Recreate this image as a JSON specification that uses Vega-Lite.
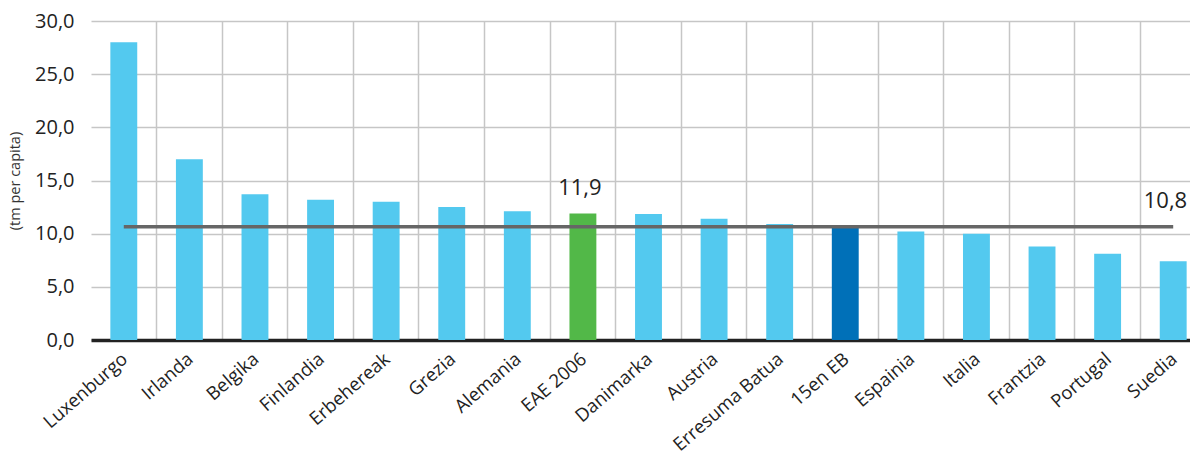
{
  "$schema": "https://vega.github.io/schema/vega-lite/v6.json",
  "width": 1099,
  "height": 319,
  "autosize": "none",
  "padding": {"left": 91, "top": 21, "right": 0, "bottom": 119},
  "background": "white",
  "config": {
    "locale": {"number": {"decimal": ",", "thousands": ".", "grouping": [3], "currency": ["", " €"]}},
    "view": {"stroke": null},
    "font": "Open Sans"
  },
  "datasets": {
    "erreferentzia": [
      {"hasiera": "Luxenburgo", "amaiera": "Suedia", "maila": 10.65, "etiketa": "10,8"}
    ]
  },
  "data": {
    "values": [
      {"herrialdea": "Luxenburgo", "balioa": 28.0, "mota": "herrialdea"},
      {"herrialdea": "Irlanda", "balioa": 17.0, "mota": "herrialdea"},
      {"herrialdea": "Belgika", "balioa": 13.7, "mota": "herrialdea"},
      {"herrialdea": "Finlandia", "balioa": 13.2, "mota": "herrialdea"},
      {"herrialdea": "Erbehereak", "balioa": 13.0, "mota": "herrialdea"},
      {"herrialdea": "Grezia", "balioa": 12.5, "mota": "herrialdea"},
      {"herrialdea": "Alemania", "balioa": 12.1, "mota": "herrialdea"},
      {"herrialdea": "EAE 2006", "balioa": 11.9, "mota": "EAE"},
      {"herrialdea": "Danimarka", "balioa": 11.85, "mota": "herrialdea"},
      {"herrialdea": "Austria", "balioa": 11.4, "mota": "herrialdea"},
      {"herrialdea": "Erresuma Batua", "balioa": 10.9, "mota": "herrialdea"},
      {"herrialdea": "15en EB", "balioa": 10.8, "mota": "EB15"},
      {"herrialdea": "Espainia", "balioa": 10.2, "mota": "herrialdea"},
      {"herrialdea": "Italia", "balioa": 10.0, "mota": "herrialdea"},
      {"herrialdea": "Frantzia", "balioa": 8.8, "mota": "herrialdea"},
      {"herrialdea": "Portugal", "balioa": 8.1, "mota": "herrialdea"},
      {"herrialdea": "Suedia", "balioa": 7.4, "mota": "herrialdea"}
    ]
  },
  "encoding": {
    "x": {
      "field": "herrialdea",
      "type": "nominal",
      "sort": null,
      "scale": {
        "domain": ["Luxenburgo", "Irlanda", "Belgika", "Finlandia", "Erbehereak", "Grezia", "Alemania", "EAE 2006", "Danimarka", "Austria", "Erresuma Batua", "15en EB", "Espainia", "Italia", "Frantzia", "Portugal", "Suedia"],
        "range": [0, 1115],
        "paddingInner": 0,
        "paddingOuter": 0
      },
      "axis": {
        "title": null,
        "grid": true,
        "bandPosition": 0,
        "gridColor": "#c6c6c6",
        "gridWidth": 1.5,
        "gridOpacity": {"condition": {"test": "datum.value === 'Luxenburgo'", "value": 0}, "value": 1},
        "domainColor": "#222222",
        "domainWidth": 3.5,
        "ticks": false,
        "labelAngle": -41,
        "labelAlign": "right",
        "labelBaseline": "middle",
        "labelOffset": 1,
        "labelPadding": 16,
        "labelFontSize": 18.5,
        "labelColor": "#222222",
        "labelFont": "Open Sans"
      }
    }
  },
  "layer": [
    {
      "mark": {"type": "bar", "width": {"band": 0.41}},
      "encoding": {
        "y": {
          "field": "balioa",
          "type": "quantitative",
          "scale": {"domain": [0, 30], "nice": false},
          "axis": {
            "title": "(tm per capita)",
            "titleFontSize": 14.5,
            "titleFontWeight": "normal",
            "titleColor": "#333333",
            "titlePadding": 12,
            "values": [0, 5, 10, 15, 20, 25, 30],
            "format": ".1f",
            "domain": false,
            "ticks": false,
            "labelPadding": 17,
            "labelFontSize": 20,
            "labelColor": "#222222",
            "gridColor": "#c6c6c6",
            "gridWidth": 1.5
          }
        },
        "color": {
          "field": "mota",
          "type": "nominal",
          "scale": {"domain": ["herrialdea", "EAE", "EB15"], "range": ["#53c9ef", "#52b848", "#0070b8"]},
          "legend": null
        }
      }
    },
    {
      "data": {"name": "erreferentzia"},
      "mark": {"type": "rule", "color": "#666666", "strokeWidth": 3.5},
      "encoding": {
        "x": {"field": "hasiera", "type": "nominal"},
        "x2": {"field": "amaiera"},
        "y": {"field": "maila", "type": "quantitative"}
      }
    },
    {
      "transform": [{"filter": "datum.mota === 'EAE'"}],
      "mark": {"type": "text", "fontSize": 22, "color": "#222222", "dy": -18, "baseline": "alphabetic", "dx": -3},
      "encoding": {
        "y": {"field": "balioa", "type": "quantitative"},
        "text": {"field": "balioa", "type": "quantitative", "format": ".1f"}
      }
    },
    {
      "data": {"name": "erreferentzia"},
      "mark": {"type": "text", "fontSize": 22, "color": "#222222", "dy": -19, "dx": 14, "align": "right", "baseline": "alphabetic"},
      "encoding": {
        "x": {"field": "amaiera", "type": "nominal"},
        "y": {"field": "maila", "type": "quantitative"},
        "text": {"field": "etiketa"}
      }
    }
  ]
}
